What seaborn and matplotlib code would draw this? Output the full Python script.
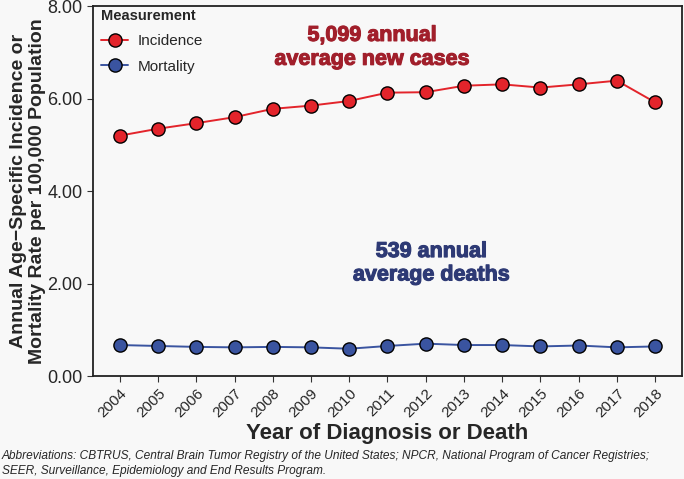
import pandas as pd
import matplotlib.pyplot as plt
import matplotlib.patheffects as pe
import seaborn as sns

# chart data
years = list(range(2004, 2019))
incidence = [5.20, 5.35, 5.47, 5.60, 5.78, 5.85, 5.95, 6.13, 6.14, 6.28, 6.31, 6.24, 6.31, 6.39, 5.92]
mortality = [0.67, 0.65, 0.63, 0.62, 0.63, 0.62, 0.59, 0.65, 0.70, 0.67, 0.67, 0.64, 0.66, 0.62, 0.64]
measures = ['Incidence', 'Mortality']
y_ticks = [0, 2, 4, 6, 8]

df = pd.DataFrame({
    'Year': years * 2,
    'Rate': incidence + mortality,
    'Measurement': [measures[0]] * len(years) + [measures[1]] * len(years),
})

sns.set_style('ticks')
plt.rcParams['font.family'] = ['Liberation Sans', 'DejaVu Sans']
bg = '#f8f8f8'

fig = plt.figure(figsize=(6.84, 4.79), dpi=100, facecolor=bg)
ax = fig.add_axes([0.136, 0.215, 0.861, 0.772])
ax.set_facecolor(bg)

palette = {'Incidence': '#e3242b', 'Mortality': '#3a54a0'}
sns.lineplot(data=df, x='Year', y='Rate', hue='Measurement', palette=palette,
             marker='o', markersize=9.5, markeredgecolor='black', markeredgewidth=1.0,
             linewidth=1.4, ax=ax)

ax.set_xlim(2003.3, 2018.7)
ax.set_ylim(0, 8)
ax.set_xticks(years)
ax.set_xticklabels([str(y) for y in years], rotation=45, ha='right',
                   rotation_mode='anchor', fontsize=11)
ax.set_yticks(y_ticks)
ax.set_yticklabels([f'{v:.2f}' for v in y_ticks], fontsize=13)
ax.tick_params(axis='both', color='#333333', length=4)
for s in ax.spines.values():
    s.set_color('#222222')
    s.set_linewidth(1.3)

ax.set_xlabel('Year of Diagnosis or Death', fontsize=16, fontweight='bold')
ax.xaxis.set_label_coords(0.5, -0.126)
ax.set_ylabel('Annual Age\u2212Specific Incidence or\nMortality Rate per 100,000 Population',
              fontsize=14, fontweight='bold', linespacing=1.2)
ax.yaxis.set_label_coords(-0.079, 0.5)

leg = ax.legend(title='Measurement', loc='upper left', frameon=False,
                fontsize=11, title_fontproperties={'weight': 'bold', 'size': 10.5},
                bbox_to_anchor=(-0.01, 1.03), labelspacing=0.75, handlelength=1.8,
                handletextpad=0.6)
leg._legend_box.align = 'left'

t1 = ax.text(2010.6, 7.11, '5,099 annual\naverage new cases', color='#a11f2b',
             fontsize=15.5, fontweight='bold', ha='center', va='center', linespacing=1.18)
t2 = ax.text(2012.15, 2.44, '539 annual\naverage deaths', color='#2e3a75',
             fontsize=15.5, fontweight='bold', ha='center', va='center', linespacing=1.15)
for t in (t1, t2):
    t.set_path_effects([pe.withStroke(linewidth=0.8, foreground=t.get_color())])

fig.text(0.003, 0.033, 'Abbreviations: CBTRUS, Central Brain Tumor Registry of the United States; '
         'NPCR, National Program of Cancer Registries;\nSEER, Surveillance, Epidemiology and End Results Program.',
         fontsize=8.6, style='italic', ha='left', va='center', linespacing=1.3)

fig.savefig('out.png', dpi=100, facecolor=bg)
